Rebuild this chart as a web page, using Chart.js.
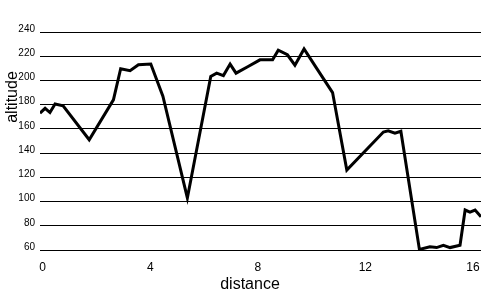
<!DOCTYPE html>
<html>
<head>
<meta charset="utf-8">
<script src="https://cdn.jsdelivr.net/npm/chart.js@4"></script>
<style>
  html, body { margin: 0; padding: 0; background: #fff; }
  canvas { display: block; }
</style>
</head>
<body>
<canvas id="c" width="500" height="300"></canvas>
<script>
const distance = [-0.1, 0.09, 0.27, 0.46, 0.76, 1.73, 2.63, 2.90, 3.25, 3.56, 4.02, 4.47, 5.38, 6.25, 6.47, 6.72, 6.97, 7.19, 7.64, 8.08, 8.55, 8.76, 9.10, 9.38, 9.72, 10.19, 10.78, 11.31, 12.67, 12.85, 13.10, 13.32, 14.01, 14.40, 14.65, 14.90, 15.15, 15.52, 15.71, 15.89, 16.08, 16.30];
const altitude = [173, 177, 173.5, 180.5, 179, 151, 184, 209.7, 208, 213, 213.5, 187, 103, 203.3, 206, 204, 213.5, 206, 211.5, 217, 217, 225, 221.2, 212.6, 226, 210, 190, 126, 157.4, 158.4, 156.5, 158, 60.5, 62.6, 62, 63.9, 62, 63.9, 93, 91.2, 93, 87.5];
const xTicks = [0, 4, 8, 12, 16];
const yTicks = [60, 80, 100, 120, 140, 160, 180, 200, 220, 240];
const xTitle = 'distance';
const yTitle = 'altitude';

const FONT = '"Liberation Sans", Arial, sans-serif';

const titlesPlugin = {
  id: 'titles',
  afterDraw(chart) {
    const ctx = chart.ctx;
    ctx.save();
    ctx.fillStyle = '#000';
    ctx.font = '16px ' + FONT;
    ctx.textAlign = 'center';
    ctx.textBaseline = 'alphabetic';
    ctx.fillText(xTitle, 250, 289);
    ctx.translate(16.5, 97);
    ctx.rotate(-Math.PI / 2);
    ctx.fillText(yTitle, 0, 0);
    ctx.restore();
  }
};

new Chart(document.getElementById('c'), {
  type: 'line',
  data: {
    datasets: [{
      data: distance.map((d, i) => ({ x: d, y: altitude[i] })),
      borderColor: '#000',
      borderWidth: 3,
      pointRadius: 0,
      tension: 0,
      fill: false
    }]
  },
  options: {
    responsive: false,
    animation: false,
    layout: { padding: { top: 32, right: 19, left: 0, bottom: 0 } },
    plugins: { legend: { display: false }, tooltip: { enabled: false } },
    scales: {
      x: {
        type: 'linear',
        min: distance[0],
        max: distance[distance.length - 1],
        afterFit(scale) { scale.height = 50; },
        afterBuildTicks(scale) { scale.ticks = xTicks.map(v => ({ value: v })); },
        grid: { display: false, drawTicks: false },
        border: { display: false },
        ticks: { color: '#000', font: { family: FONT, size: 12 }, padding: 10, maxRotation: 0 }
      },
      y: {
        type: 'linear',
        min: yTicks[0],
        max: yTicks[yTicks.length - 1],
        afterFit(scale) { scale.width = 40; },
        afterBuildTicks(scale) { scale.ticks = yTicks.map(v => ({ value: v })); },
        grid: { color: '#000', lineWidth: 1, drawTicks: false },
        border: { display: false },
        ticks: { color: '#000', font: { family: FONT, size: 10 }, padding: 5, labelOffset: -3 }
      }
    }
  },
  plugins: [titlesPlugin]
});
</script>
</body>
</html>
